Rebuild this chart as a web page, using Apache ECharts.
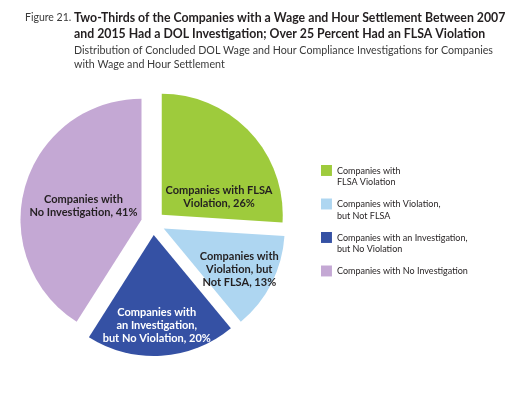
<!DOCTYPE html>
<html><head><meta charset="utf-8">
<script src="https://cdn.jsdelivr.net/npm/echarts@6/dist/echarts.min.js"></script>
<style>html,body{margin:0;padding:0;background:#fff}#c{width:523px;height:402px}</style>
</head><body><div id="c"></div>
<script>
const categories = [
  'Companies with FLSA Violation',
  'Companies with Violation, but Not FLSA',
  'Companies with an Investigation, but No Violation',
  'Companies with No Investigation'
];
const values = [26, 13, 20, 41];
const legendLabels = [
  'Companies with\nFLSA Violation',
  'Companies with Violation,\nbut Not FLSA',
  'Companies with an Investigation,\nbut No Violation',
  'Companies with No Investigation\n '
];
const sliceLabels = [
  'Companies with FLSA\nViolation, 26%',
  'Companies with\nViolation, but\nNot FLSA, 13%',
  'Companies with\nan Investigation,\nbut No Violation, 20%',
  'Companies with\nNo Investigation, 41%'
];
const colors = ['#9ecb3c', '#aed6f1', '#3551a4', '#c4a8d4'];
const labelColors = ['#231f20', '#231f20', '#ffffff', '#231f20'];

const FONT = 'Lato';
const chart = echarts.init(document.getElementById('c'), null, {renderer: 'canvas'});
const icon = 'path://M0,0L10,0L10,10L0,10Z M0,21';
const shift = [[11, 26], [19, 12], [-1, 27.5], [3, 4]];
chart.setOption({
  animation: false,
  color: colors,
  title: [
    {text: 'Figure 21.', left: 25, top: 10, padding: 0,
     textStyle: {fontFamily: FONT, fontSize: 10.5, fontWeight: 'normal', color: '#3a3a3a', lineHeight: 16}},
    {text: 'Two-Thirds of the Companies with a Wage and Hour Settlement Between 2007\nand 2015 Had a DOL Investigation; Over 25 Percent Had an FLSA Violation',
     subtext: 'Distribution of Concluded DOL Wage and Hour Compliance Investigations for Companies\nwith Wage and Hour Settlement',
     left: 74, top: 10, itemGap: 1.5, padding: 0,
     textStyle: {fontFamily: FONT, fontSize: 12.3, fontWeight: 'bold', color: '#231f20', lineHeight: 16},
     subtextStyle: {fontFamily: FONT, fontSize: 10.7, color: '#3a3a3a', lineHeight: 14}}
  ],
  legend: {
    orient: 'vertical', left: 321, top: 165, padding: 0,
    itemWidth: 11, itemHeight: 23, itemGap: 10.5,
    selectedMode: false,
    data: categories.map(c => ({name: c, icon: icon})),
    formatter: name => legendLabels[categories.indexOf(name)],
    textStyle: {fontFamily: FONT, fontSize: 9, color: '#231f20', lineHeight: 11.5}
  },
  series: [{
    type: 'pie',
    center: [153, 223], radius: 121,
    startAngle: 90, clockwise: true,
    selectedMode: 'multiple', selectedOffset: 12,
    label: {
      position: 'inside',
      fontFamily: FONT, fontSize: 11, fontWeight: 'bold', lineHeight: 13, align: 'center'
    },
    labelLine: {show: false},
    emphasis: {disabled: true},
    labelLayout: p => ({dx: shift[p.dataIndex][0], dy: shift[p.dataIndex][1]}),
    data: categories.map((c, i) => ({
      name: c, value: values[i], selected: true,
      itemStyle: {color: colors[i]},
      select: {itemStyle: {color: colors[i]}},
      label: {formatter: sliceLabels[i], color: labelColors[i]}
    }))
  }]
});
</script></body></html>
